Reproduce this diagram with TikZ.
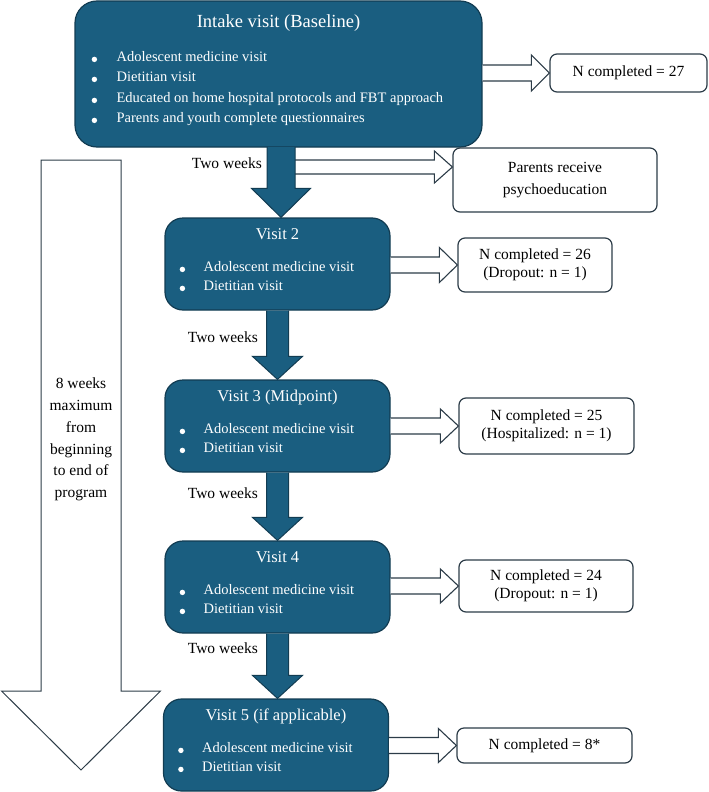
\documentclass[tikz,border=0pt]{standalone}
\usepackage{fontspec}
\setmainfont{Liberation Serif}
\usetikzlibrary{calc,positioning}

\definecolor{visitblue}{RGB}{26,94,128}
\definecolor{visitedge}{RGB}{18,60,82}
\definecolor{lineedge}{RGB}{44,60,72}

\tikzset{
  visit/.style={draw=visitedge, line width=1.2pt, fill=visitblue, rounded corners=18pt,
    minimum width=225pt, minimum height=92pt, inner sep=0pt},
  vtitle/.style={text=white, font=\fontsize{16.5}{19}\selectfont, inner sep=0pt, anchor=mid},
  vitem/.style={text=white, font=\fontsize{14.5}{17}\selectfont, inner sep=0pt, anchor=mid west},
  countbox/.style={draw=lineedge, line width=1.2pt, fill=white, rounded corners=7pt,
    inner sep=0pt, align=center, font=\fontsize{15.5}{18.5}\selectfont},
  weeks/.style={font=\fontsize{15.5}{18}\selectfont, inner sep=0pt, anchor=mid east},
  hollow/.style={draw=lineedge, line width=1.1pt, fill=white},
  blockdown/.style={draw=visitedge, line width=1pt, fill=visitblue},
}

% hollow arrow pointing right: start, tip, shaft half, head half, head length
\newcommand{\rightblock}[5]{%
  \draw[hollow] let \p1=(#1), \p2=(#2) in
    (\x1,\y2+#3) -- (\x2-#5,\y2+#3) -- (\x2-#5,\y2+#4) -- (\x2,\y2)
    -- (\x2-#5,\y2-#4) -- (\x2-#5,\y2-#3) -- (\x1,\y2-#3);}
% filled arrow pointing down: start, tip, shaft half, head half, head length
\newcommand{\downblock}[5]{%
  \draw[blockdown] let \p1=(#1), \p2=(#2) in
    (\x1-#3,\y1) -- (\x1-#3,\y2+#5) -- (\x1-#4,\y2+#5) -- (\x1,\y2)
    -- (\x1+#4,\y2+#5) -- (\x1+#3,\y2+#5) -- (\x1+#3,\y1);}

\begin{document}
\begin{tikzpicture}[x=1pt,y=-1pt]
    \useasboundingbox (0,0) rectangle (709,792);

    % span of the program
    \draw[hollow, line width=1pt] (41,160) -- (41,691) -- (1.5,691) -- (81,770)
      -- (160.5,691) -- (121,691) -- (121,160) -- cycle;
    \node[align=center, inner sep=0pt, font=\fontsize{15.5}{21.8}\selectfont] (span) at (81,439.5)
      {8 weeks\\maximum\\from\\beginning\\to end of\\program};

    % intake
    \node[visit, minimum width=407pt, minimum height=146pt, rounded corners=22pt] (intake) at (278.5,74) {};
    \node[vtitle, font=\fontsize{18.5}{22}\selectfont] (intake-t) at ($(intake.north)+(0,25)$) {Intake visit (Baseline)};
    \foreach \i/\dy/\txt in {1/59/Adolescent medicine visit, 2/79/Dietitian visit,
        3/100/Educated on home hospital protocols and FBT approach,
        4/120/Parents and youth complete questionnaires} {
      \fill[white] ($(intake.north west)+(20,\dy)$) circle (2.7pt);
      \node[vitem] (intake-\i) at ($(intake.north west)+(42,\dy)$) {\txt};
    }

    % visits 2 to 5
    \foreach \n/\x/\y/\t in {2/277.5/264/Visit 2, 3/277.5/426/Visit 3 (Midpoint),
        4/277.5/587/Visit 4, 5/276/745/Visit 5 (if applicable)} {
      \node[visit] (v\n) at (\x,\y) {};
      \node[vtitle] (v\n-t) at ($(v\n.north)+(0,20)$) {\t};
      \fill[white] ($(v\n.north west)+(18,52)$) circle (2.7pt);
      \fill[white] ($(v\n.north west)+(18,71)$) circle (2.7pt);
      \node[vitem] (v\n-a) at ($(v\n.north west)+(39,52)$) {Adolescent medicine visit};
      \node[vitem] (v\n-b) at ($(v\n.north west)+(39,71)$) {Dietitian visit};
    }

    % counts
    \node[countbox, minimum width=157pt, minimum height=38pt] (n27) at (628.5,73) {N completed = 27};
    \node[countbox, minimum width=204pt, minimum height=64pt] (parents) at (555,180) {Parents receive\\[3pt]psychoeducation};
    \node[countbox, minimum width=154pt, minimum height=54pt] (n26) at (535,265) {N completed = 26\\(Dropout: n = 1)};
    \node[countbox, minimum width=175pt, minimum height=56pt] (n25) at (546.5,426) {N completed = 25\\(Hospitalized: n = 1)};
    \node[countbox, minimum width=174pt, minimum height=52pt] (n24) at (546,586) {N completed = 24\\(Dropout: n = 1)};
    \node[countbox, minimum width=175pt, minimum height=35pt] (n8) at (544.5,745.5) {N completed = 8*};

    % arrows
    \coordinate (fork) at (295,167);
    \coordinate (d1) at (281,147);
    \rightblock{intake.east}{n27.west}{8pt}{18pt}{18pt}
    \rightblock{fork}{parents.west |- fork}{7pt}{16pt}{18pt}
    \rightblock{v2.east}{n26.west}{8pt}{17.5pt}{18pt}
    \rightblock{v3.east}{n25.west}{8pt}{17pt}{18pt}
    \rightblock{v4.east}{n24.west}{8pt}{17pt}{18pt}
    \rightblock{v5.east}{n8.west}{8pt}{17pt}{18pt}
    \downblock{d1}{v2.north}{14pt}{29.5pt}{29pt}
    \downblock{v2.south}{v3.north}{11pt}{25pt}{23pt}
    \downblock{v3.south}{v4.north}{11pt}{25pt}{23pt}
    \downblock{v4.south}{v5.north}{11pt}{25pt}{23pt}

    \node[weeks] (tw1) at (262,166) {Two weeks};
    \node[weeks] (tw2) at (258,340) {Two weeks};
    \node[weeks] (tw3) at (258,496) {Two weeks};
    \node[weeks] (tw4) at (258,651) {Two weeks};
\end{tikzpicture}
\end{document}
